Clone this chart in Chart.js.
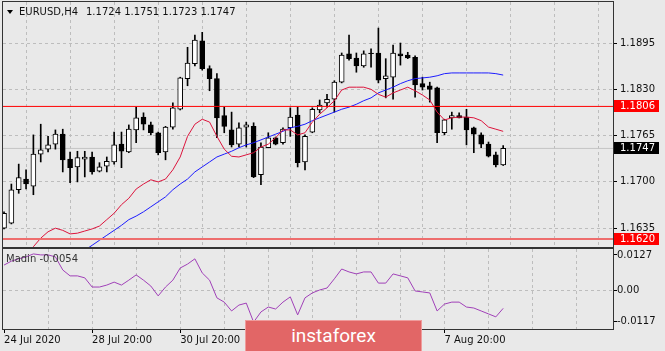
<!DOCTYPE html>
<html>
<head>
<meta charset="utf-8">
<script src="https://cdn.jsdelivr.net/npm/chart.js@4.4.1/dist/chart.umd.min.js"></script>
<style>
html, body { margin: 0; padding: 0; background: #e9e9e9; }
#wrap { position: relative; width: 665px; height: 351px; overflow: hidden; }
#main { position: absolute; left: 0; top: 0; }
#ind { position: absolute; left: 0; top: 247px; }
#logo { position: absolute; left: 245px; top: 320px; width: 175px; height: 40px; background: #e26666; border: 1px solid #ef9c9c;
  color: #fff; font: 19px Roboto, sans-serif; text-align: center; line-height: 30px; }
</style>
</head>
<body>
<div id="wrap">
  <canvas id="main" width="665" height="249"></canvas>
  <canvas id="ind" width="665" height="104"></canvas>
  <div id="logo">instaforex</div>
</div>
<script>
// EURUSD H4 bars, 24 Jul 20:00 .. 11 Aug 04:00
var opens  = [1.1635,1.1642,1.1689,1.1704,1.1694,1.1739,1.1746,1.1753,1.1767,1.1732,1.1721,1.1732,1.1735,1.1715,1.1722,1.1728,1.1753,1.1742,1.1773,1.1791,
              1.1780,1.1769,1.1742,1.1777,1.1802,1.1845,1.1866,1.1898,1.1859,1.1845,1.1793,1.1773,1.1753,1.1777,1.1778,1.1710,1.1748,1.1762,1.1755,1.1776,
              1.1794,1.1728,1.1770,1.1801,1.1811,1.1816,1.1840,1.1880,1.1874,1.1863,1.1881,1.1881,1.1845,1.1847,1.1880,1.1878,1.1875,1.1838,1.1835,1.1832,
              1.1769,1.1790,1.1793,1.1791,1.1776,1.1766,1.1753,1.1738,1.1724];
var highs  = [1.1658,1.1697,1.1725,1.1717,1.1766,1.1781,1.1764,1.1773,1.1774,1.1742,1.1743,1.1743,1.1742,1.1727,1.1735,1.1770,1.1770,1.1780,1.1805,1.1797,
              1.1784,1.1770,1.1778,1.1811,1.1847,1.1889,1.1906,1.1910,1.1863,1.1852,1.1805,1.1798,1.1783,1.1784,1.1783,1.1755,1.1769,1.1763,1.1776,1.1804,
              1.1805,1.1766,1.1804,1.1815,1.1823,1.1842,1.1881,1.1906,1.1881,1.1884,1.1887,1.1916,1.1873,1.1892,1.1895,1.1882,1.1877,1.1847,1.1840,1.1833,
              1.1788,1.1798,1.1797,1.1802,1.1777,1.1769,1.1756,1.1742,1.1751];
var lows   = [1.1634,1.1641,1.1684,1.1690,1.1682,1.1728,1.1742,1.1746,1.1714,1.1699,1.1700,1.1707,1.1711,1.1714,1.1714,1.1725,1.1720,1.1741,1.1755,1.1773,
              1.1766,1.1738,1.1731,1.1774,1.1801,1.1835,1.1863,1.1857,1.1828,1.1762,1.1769,1.1749,1.1749,1.1749,1.1706,1.1696,1.1748,1.1752,1.1753,1.1764,
              1.1721,1.1717,1.1769,1.1797,1.1805,1.1798,1.1839,1.1871,1.1854,1.1861,1.1861,1.1839,1.1818,1.1816,1.1864,1.1873,1.1819,1.1829,1.1812,1.1755,
              1.1766,1.1774,1.1790,1.1752,1.1741,1.1748,1.1735,1.1721,1.1723];
var closes = [1.1656,1.1689,1.1706,1.1697,1.1739,1.1745,1.1752,1.1767,1.1731,1.1720,1.1734,1.1735,1.1714,1.1721,1.1729,1.1752,1.1743,1.1774,1.1790,1.1781,
              1.1769,1.1741,1.1777,1.1804,1.1846,1.1867,1.1899,1.1859,1.1845,1.1790,1.1778,1.1752,1.1776,1.1780,1.1707,1.1749,1.1762,1.1753,1.1774,1.1791,
              1.1727,1.1764,1.1802,1.1808,1.1816,1.1840,1.1878,1.1873,1.1863,1.1880,1.1880,1.1843,1.1849,1.1881,1.1877,1.1874,1.1836,1.1833,1.1830,1.1769,
              1.1787,1.1793,1.1790,1.1773,1.1767,1.1753,1.1736,1.1724,1.1747];

// moving averages (red = fast, blue = slow)
var maFast = [null,null,null,1.1597,1.1609,1.1621,1.1630,1.1635,1.1632,1.1627,1.1628,1.1631,1.1634,1.1638,1.1647,1.1656,1.1668,1.1677,1.1690,1.1697,
              1.1703,1.1700,1.1704,1.1717,1.1735,1.1764,1.1781,1.1788,1.1784,1.1764,1.1746,1.1736,1.1735,1.1738,1.1741,1.1749,1.1753,1.1762,1.1773,1.1773,
              1.1766,1.1769,1.1784,1.1795,1.1804,1.1814,1.1829,1.1833,1.1833,1.1833,1.1830,1.1823,1.1819,1.1825,1.1829,1.1833,1.1828,1.1822,1.1815,1.1798,
              1.1787,1.1790,1.1791,1.1791,1.1790,1.1786,1.1777,1.1774,1.1771];
var maSlow = [null,null,null,null,null,null,null,null,null,null,null,1.1604,1.1611,1.1618,1.1625,1.1632,1.1639,1.1647,1.1652,1.1658,
              1.1665,1.1672,1.1679,1.1689,1.1697,1.1704,1.1714,1.1721,1.1728,1.1735,1.1739,1.1743,1.1748,1.1752,1.1755,1.1759,1.1763,1.1767,1.1771,1.1776,
              1.1778,1.1781,1.1786,1.1790,1.1794,1.1798,1.1802,1.1805,1.1809,1.1814,1.1818,1.1825,1.1829,1.1833,1.1838,1.1842,1.1845,1.1846,1.1847,1.1849,
              1.1852,1.1853,1.1853,1.1853,1.1853,1.1853,1.1853,1.1852,1.1850];

// "Madin" oscillator
var madin = [0.0078,0.0090,0.0097,0.0103,0.0112,0.0109,0.0109,0.0103,0.0063,0.0045,0.0045,0.0039,0.0011,0.0011,0.0017,0.0026,0.0017,0.0032,0.0048,0.0032,
             0.0014,-0.0016,0.0011,0.0032,0.0069,0.0081,0.0097,0.0054,0.0032,-0.0022,-0.0035,-0.0062,-0.0044,-0.0038,-0.0096,-0.0065,-0.0050,-0.0056,-0.0035,-0.0019,
             -0.0074,-0.0022,-0.0007,0.0002,0.0008,0.0036,0.0066,0.0057,0.0051,0.0057,0.0057,0.0023,0.0023,0.0051,0.0045,0.0039,-0.0001,-0.0004,-0.0007,-0.0062,
             -0.0041,-0.0035,-0.0035,-0.0050,-0.0053,-0.0062,-0.0071,-0.0080,-0.0054];

var priceTicks = [1.1635, 1.1700, 1.1765, 1.1830, 1.1895];
var levelTop = 1.1806;
var levelBottom = 1.1620;
var lastPrice = 1.1747;
var indTickLabels = ['0.0127', '0.00', '-0.0117'];
var timeLabels = ['24 Jul 2020', '28 Jul 20:00', '30 Jul 20:00', '3 Aug 20:00', '5 Aug 20:00', '7 Aug 20:00'];
var timeLabelBars = [0, 12, 24, 36, 48, 60];
var gridBars = [6, 12, 18, 24, 30, 36, 42, 48, 54, 60, 66, 72, 78];

var X_MIN = -0.14, X_MAX = 82.96;
var Y_MIN = 1.16086, Y_MAX = 1.19526;
var IND_MIN = -0.0117, IND_MAX = 0.0127;
var FONT = { family: 'DejaVu Sans', size: 10 };
var TEXT = '#111';
var GRID = '#bdbdbd';
var FRAME = '#333';

var bodyData = opens.map(function (o, i) { return { x: i, y: [o, closes[i]] }; });
var wickData = lows.map(function (l, i) { return { x: i, y: [l, highs[i]] }; });
var bodyColors = opens.map(function (o, i) { return closes[i] >= o ? '#ffffff' : '#000000'; });
function xy(arr) { return arr.map(function (v, i) { return { x: i, y: v }; }); }
function flat(v) { return [{ x: X_MIN, y: v }, { x: X_MAX, y: v }]; }

function frame(chart) {
  var a = chart.chartArea, c = chart.ctx;
  c.save();
  c.strokeStyle = FRAME;
  c.lineWidth = 1;
  c.strokeRect(a.left - 0.5, a.top - 0.5, a.right - a.left + 1, a.bottom - a.top + 1);
  c.restore();
}

var mainDecor = {
  id: 'mainDecor',
  afterDraw: function (chart) {
    frame(chart);
    var c = chart.ctx, y = chart.scales.y;
    c.save();
    // title
    c.fillStyle = '#000';
    c.beginPath(); c.moveTo(7, 10); c.lineTo(13, 10); c.lineTo(10, 14); c.closePath(); c.fill();
    c.font = '10px "DejaVu Sans"';
    c.textBaseline = 'middle';
    c.fillStyle = TEXT;
    c.fillText('EURUSD,H4', 19, 12);
    var n = opens.length - 1;
    c.fillText([opens[n], highs[n], lows[n], closes[n]].map(function (v) { return v.toFixed(4); }).join(' '), 86, 12);
    // price tags on the axis
    [[levelTop, '#ff0000'], [lastPrice, '#000000'], [levelBottom, '#ff0000']].forEach(function (t) {
      var py = Math.round(y.getPixelForValue(t[0]));
      c.fillStyle = t[1];
      c.fillRect(614, py - 6, 45, 12);
      c.fillStyle = '#fff';
      c.fillText(t[0].toFixed(4), 620, py);
    });
    c.restore();
  }
};

var indDecor = {
  id: 'indDecor',
  afterDraw: function (chart) {
    frame(chart);
    var c = chart.ctx;
    c.save();
    c.font = '10px "DejaVu Sans"';
    c.textBaseline = 'middle';
    c.fillStyle = '#333';
    c.fillText('Madin ' + madin[madin.length - 1].toFixed(4), 6, 12);
    c.restore();
  }
};

new Chart(document.getElementById('main'), {
  type: 'bar',
  data: {
    datasets: [
      { type: 'line', data: flat(lastPrice), borderColor: '#c4c4c4', borderWidth: 1, pointRadius: 0, order: 10 },
      { data: wickData, backgroundColor: '#000', borderWidth: 0, barThickness: 1, grouped: false, order: 9 },
      { data: bodyData, backgroundColor: bodyColors, borderColor: '#000', borderWidth: 1, borderSkipped: false,
        barThickness: 5, grouped: false, order: 8 },
      { type: 'line', data: xy(maSlow), borderColor: '#1c1cff', borderWidth: 1, pointRadius: 0, order: 4 },
      { type: 'line', data: xy(maFast), borderColor: '#dc143c', borderWidth: 1, pointRadius: 0, order: 3 },
      { type: 'line', data: flat(levelTop), borderColor: '#ff0000', borderWidth: 1, pointRadius: 0, order: 2 },
      { type: 'line', data: flat(levelBottom), borderColor: '#ee6e6e', borderWidth: 2, pointRadius: 0, order: 2 }
    ]
  },
  options: {
    responsive: false,
    animation: false,
    events: [],
    layout: { padding: { left: 3, top: 2, right: 0, bottom: 2 } },
    plugins: { legend: { display: false }, tooltip: { enabled: false } },
    scales: {
      x: {
        type: 'linear', min: X_MIN, max: X_MAX, offset: false,
        afterBuildTicks: function (s) { s.ticks = gridBars.map(function (v) { return { value: v }; }); },
        ticks: { display: false },
        grid: { color: GRID, drawTicks: false },
        border: { display: false, dash: [3, 3] },
        afterFit: function (s) { s.height = 0; s.paddingLeft = 0; s.paddingRight = 0; }
      },
      y: {
        position: 'right', min: Y_MIN, max: Y_MAX,
        afterBuildTicks: function (s) { s.ticks = priceTicks.map(function (v) { return { value: v }; }); },
        ticks: { font: FONT, color: TEXT, padding: 3, callback: function (v) { return v.toFixed(4); } },
        grid: { color: GRID, tickColor: '#000', tickLength: 4 },
        border: { display: false, dash: [3, 3] },
        afterFit: function (s) { s.width = 52; s.paddingTop = 0; s.paddingBottom = 0; }
      }
    }
  },
  plugins: [mainDecor]
});

new Chart(document.getElementById('ind'), {
  type: 'line',
  data: {
    datasets: [
      { data: xy(madin), borderColor: '#a040b8', borderWidth: 1, pointRadius: 0 }
    ]
  },
  options: {
    responsive: false,
    animation: false,
    events: [],
    layout: { padding: { left: 3, top: 2, right: 0, bottom: 0 } },
    plugins: { legend: { display: false }, tooltip: { enabled: false } },
    scales: {
      x: {
        type: 'linear', min: X_MIN, max: X_MAX,
        afterBuildTicks: function (s) { s.ticks = [0].concat(gridBars).map(function (v) { return { value: v }; }); },
        ticks: {
          font: FONT, color: TEXT, align: 'start', padding: 1, maxRotation: 0, autoSkip: false,
          callback: function (v) { var k = timeLabelBars.indexOf(v); return k < 0 ? '' : timeLabels[k]; }
        },
        grid: {
          color: function (ctx) { return ctx.tick && ctx.tick.value === 0 ? 'rgba(0,0,0,0)' : GRID; },
          tickColor: function (ctx) { return ctx.tick && timeLabelBars.indexOf(ctx.tick.value) >= 0 ? '#000' : 'rgba(0,0,0,0)'; },
          tickLength: 4
        },
        border: { display: false, dash: [3, 3] },
        afterFit: function (s) { s.height = 22; s.paddingLeft = 0; s.paddingRight = 0; }
      },
      y: {
        position: 'right', min: IND_MIN, max: IND_MAX,
        // MT4 insets the max/min labels a few pixels inside the sub-window
        afterBuildTicks: function (s) {
          var r = IND_MAX - IND_MIN;
          s.ticks = [{ value: IND_MAX - r * 0.075 }, { value: 0 }, { value: IND_MIN + r * 0.1 }];
        },
        ticks: {
          font: FONT, color: TEXT, padding: 0,
          callback: function (v, i) { return indTickLabels[i]; }
        },
        grid: {
          color: function (ctx) { return ctx.index === 1 ? GRID : 'rgba(0,0,0,0)'; },
          tickColor: '#000', tickLength: 4
        },
        border: { display: false, dash: [3, 3] },
        afterFit: function (s) { s.width = 52; s.paddingTop = 0; s.paddingBottom = 0; }
      }
    }
  },
  plugins: [indDecor]
});
</script>
</body>
</html>
